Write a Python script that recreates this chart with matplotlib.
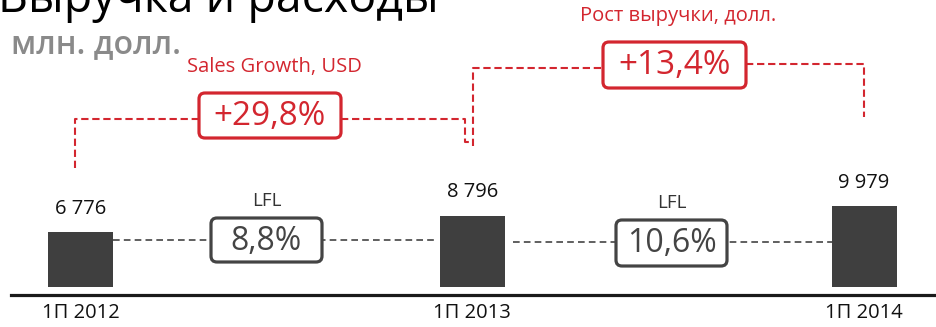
import matplotlib.pyplot as plt
from matplotlib.patches import FancyBboxPatch

plt.rcParams['font.family'] = ['Open Sans', 'DejaVu Sans']

periods = ["1П 2012", "1П 2013", "1П 2014"]
revenue = [6776, 8796, 9979]
lfl = ["8,8%", "10,6%"]
growth = ["+29,8%", "+13,4%"]
growth_titles = ["Sales Growth, USD", "Рост выручки, долл."]

RED = "#d3262f"
BAR = "#3f3f3f"
GREY = "#444444"

fig = plt.figure(figsize=(9.37, 3.27), dpi=100)

# bars
ax = fig.add_axes([0, 32 / 327, 1, 295 / 327])
ax.bar(range(len(revenue)), revenue, width=0.166, color=BAR, zorder=2)
ax.set_xlim(-0.2055, 2.186)
ax.set_ylim(-988, 35432)
for s in ["top", "left", "right"]:
    ax.spines[s].set_visible(False)
ax.spines["bottom"].set_linewidth(2.3)
ax.spines["bottom"].set_color("#1a1a1a")
ax.spines["bottom"].set_bounds(-0.177, 2.186)
ax.set_yticks([])
ax.set_xticks(range(len(periods)), periods, fontsize=14.5, color="#111111")
ax.tick_params(axis="x", length=0, pad=6)

for i, v in enumerate(revenue):
    ax.annotate(f"{v:,}".replace(",", " "), xy=(i, v), xytext=(0, 17),
                textcoords="offset points", ha="center", va="center",
                fontsize=14.5, color="#111111")

# overlay in pixel units for the callouts
ov = fig.add_axes([0, 0, 1, 1], zorder=3)
ov.set_xlim(0, 937)
ov.set_ylim(327, 0)
ov.axis("off")
ov.patch.set_alpha(0)

ov.text(-2, 12, "Выручка и расходы", fontsize=33.5, color="black",
        ha="left", va="baseline")
ov.text(11, 53, "млн. долл.", fontsize=23, color="#8a8a8a",
        fontweight="semibold", ha="left", va="baseline")


def box(x0, y0, x1, y1, text, color, size):
    ov.add_patch(FancyBboxPatch((x0, y0), x1 - x0, y1 - y0,
                                boxstyle="round,pad=0,rounding_size=6",
                                fc="white", ec=color, lw=2.3, zorder=4))
    ov.text((x0 + x1) / 2, (y0 + y1) / 2 + 1, text, fontsize=size,
            color=color, ha="center", va="center", zorder=5)


# LFL connectors
lfl_pos = [(211, 218, 322, 262, 113, 435, 240), (616, 220, 727, 266, 513, 832, 242)]
for (x0, y0, x1, y1, la, lb, ly), txt in zip(lfl_pos, lfl):
    ov.plot([la, lb], [ly, ly], color=GREY, lw=1.2, dashes=(4, 2.5), zorder=3)
    box(x0, y0, x1, y1, txt, GREY, 23)
    ov.text((x0 + x1) / 2, y0 - 17, "LFL", fontsize=13.5, color="#333333",
            ha="center", va="center")

# growth connectors
red_paths = [
    ([75, 75, 199], [168, 119, 119]),
    ([341, 465, 465, 469], [119, 119, 142, 142]),
    ([473, 473, 603], [146, 68, 68]),
    ([746, 864, 864], [64, 64, 117]),
]
for xs, ys in red_paths:
    ov.plot(xs, ys, color=RED, lw=1.5, dashes=(3.5, 1.8), zorder=3)

red_boxes = [(199, 93, 341, 138), (603, 42, 746, 88)]
for (x0, y0, x1, y1), txt, ttl in zip(red_boxes, growth, growth_titles):
    box(x0, y0, x1, y1, txt, RED, 24)
    ov.text((x0 + x1) / 2 + 4, y0 - 26, ttl, fontsize=14.5, color=RED,
            ha="center", va="center")

fig.savefig("out.png", dpi=100)
